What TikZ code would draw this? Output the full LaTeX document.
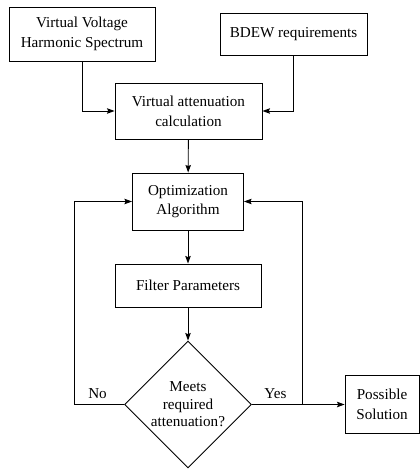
\documentclass[tikz,border=0pt]{standalone}
\usepackage{fontspec}
\setmainfont{Liberation Serif}
\usetikzlibrary{shapes.geometric,arrows.meta}

\tikzset{
    block/.style={draw, line width=0.6pt, align=center, inner sep=2pt,
        font=\fontsize{10}{13}\selectfont},
    decision/.style={draw, diamond, line width=0.6pt, align=center, inner sep=0pt,
        minimum width=83.8pt, minimum height=83.8pt,
        font=\fontsize{10}{11.6}\selectfont},
    arr/.style={-{Stealth[length=5pt,width=3.6pt,inset=0.8pt]}, line width=0.6pt},
    line/.style={line width=0.6pt}
}

\begin{document}
\begin{tikzpicture}[x=0.66pt, y=-0.66pt]
    \useasboundingbox (0,0) rectangle (419,470);

    % Inputs
    \node[block, minimum width=96.4pt, minimum height=35.6pt] (spectrum) at (82,34)
        {Virtual Voltage\\Harmonic Spectrum};
    \node[block, minimum width=97pt, minimum height=27.7pt] (bdew) at (293.5,34)
        {BDEW requirements};

    % Main chain
    \node[block, minimum width=97pt, minimum height=37pt] (atten) at (188.5,111)
        {Virtual attenuation\\calculation};
    \node[block, minimum width=73.3pt, minimum height=37.6pt] (optim) at (188,201.5)
        {Optimization\\Algorithm};
    \node[block, minimum width=96.4pt, minimum height=28.4pt] (filter) at (188,285.5)
        {Filter Parameters};
    \node[decision] (meets) at (188,404.5)
        {Meets\\required\\attenuation?};
    \node[block, minimum width=48.8pt, minimum height=38.3pt] (solution) at (382,404.5)
        {Possible\\Solution};

    % Turning points of the two loops
    \coordinate (noturn) at (74,404.5);
    \coordinate (yesturn) at (302,404.5);

    % Connectors
    \draw[arr] (spectrum.south) |- (atten.west);
    \draw[arr] (bdew.south) |- (atten.east);
    \draw[arr] (atten) -- (optim);
    \draw[arr] (optim) -- (filter);
    \draw[arr] (filter) -- (meets);

    \draw[line] (meets.west) -- node[above, font=\fontsize{10}{12}\selectfont, xshift=-1pt] {No} (noturn);
    \draw[arr] (noturn) |- (optim.west);
    \draw[line] (meets.east) -- node[above, font=\fontsize{10}{12}\selectfont, xshift=-1pt] {Yes} (yesturn);
    \draw[arr] (yesturn) -- (solution.west);
    \draw[arr] (yesturn) |- (optim.east);
\end{tikzpicture}
\end{document}
